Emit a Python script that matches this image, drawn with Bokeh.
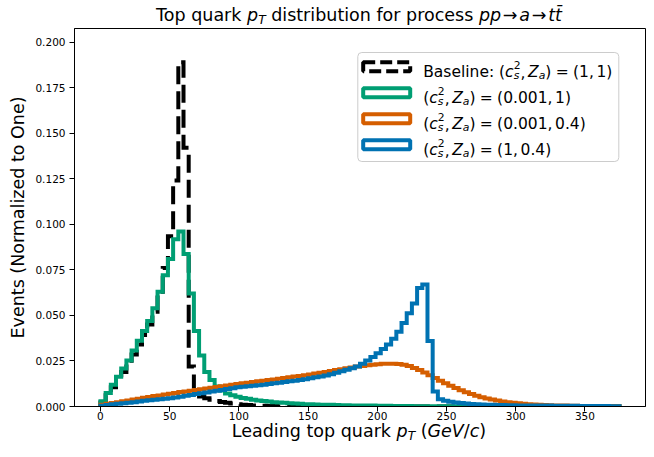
import numpy as np
from bokeh.plotting import figure
from bokeh.layouts import column
from bokeh.models import Label, BoxAnnotation, FixedTicker, NumeralTickFormatter, Range1d, Div
from bokeh.embed import file_html
from bokeh.resources import INLINE

# ---------------- data ----------------
bin_edges = np.linspace(0.0, 375.0, 101)

baseline_1_1 = [
    0.0022, 0.0062, 0.0105, 0.0148, 0.0190, 0.0235, 0.0285, 0.0340, 0.0392, 0.0450,
    0.0520, 0.0610, 0.0760, 0.0935, 0.1240, 0.1890, 0.1420, 0.0220, 0.0075, 0.0055,
    0.0045, 0.0037, 0.0030, 0.0025, 0.0020, 0.0016, 0.0013, 0.0010, 0.0008, 0.0006,
    0.0005, 0.0004, 0.0003, 0.0003, 0.0002, 0.0002, 0.0001, 0.0001, 0.0, 0.0,
    0.0, 0.0, 0.0, 0.0, 0.0, 0.0, 0.0, 0.0, 0.0, 0.0,
    0.0, 0.0, 0.0, 0.0, 0.0, 0.0, 0.0, 0.0, 0.0, 0.0,
    0.0, 0.0, 0.0, 0.0, 0.0, 0.0, 0.0, 0.0, 0.0, 0.0,
    0.0, 0.0, 0.0, 0.0, 0.0, 0.0, 0.0, 0.0, 0.0, 0.0,
    0.0, 0.0, 0.0, 0.0, 0.0, 0.0, 0.0, 0.0, 0.0, 0.0,
    0.0, 0.0, 0.0, 0.0, 0.0, 0.0, 0.0, 0.0, 0.0, 0.0,
]

cs0001_za1 = [
    0.0029, 0.0074, 0.0119, 0.0163, 0.0209, 0.0253, 0.0307, 0.0361, 0.0415, 0.0469,
    0.0540, 0.0630, 0.0720, 0.0810, 0.0918, 0.0960, 0.0837, 0.0620, 0.0415, 0.0280,
    0.0190, 0.0146, 0.0110, 0.0088, 0.0072, 0.0062, 0.0054, 0.0047, 0.0042, 0.0037,
    0.0033, 0.0030, 0.0027, 0.0024, 0.0022, 0.0020, 0.0018, 0.0016, 0.0015, 0.0013,
    0.0012, 0.0011, 0.0010, 0.0009, 0.0009, 0.0008, 0.0007, 0.0007, 0.0006, 0.0006,
    0.0005, 0.0005, 0.0005, 0.0004, 0.0004, 0.0004, 0.0003, 0.0003, 0.0003, 0.0003,
    0.0002, 0.0002, 0.0002, 0.0002, 0.0002, 0.0002, 0.0002, 0.0002, 0.0002, 0.0002,
    0.0002, 0.0002, 0.0002, 0.0002, 0.0002, 0.0002, 0.0002, 0.0002, 0.0002, 0.0002,
    0.0001, 0.0001, 0.0001, 0.0001, 0.0001, 0.0001, 0.0001, 0.0001, 0.0001, 0.0001,
    0.0001, 0.0001, 0.0001, 0.0001, 0.0001, 0.0001, 0.0001, 0.0001, 0.0001, 0.0001,
]

cs0001_za04 = [
    0.0010, 0.0015, 0.0019, 0.0024, 0.0029, 0.0033, 0.0038, 0.0043, 0.0048, 0.0052,
    0.0057, 0.0061, 0.0066, 0.0070, 0.0074, 0.0079, 0.0083, 0.0087, 0.0091, 0.0095,
    0.0099, 0.0103, 0.0107, 0.0111, 0.0115, 0.0119, 0.0123, 0.0127, 0.0131, 0.0134,
    0.0138, 0.0141, 0.0145, 0.0148, 0.0152, 0.0156, 0.0160, 0.0164, 0.0168, 0.0172,
    0.0176, 0.0181, 0.0185, 0.0190, 0.0195, 0.0200, 0.0205, 0.0210, 0.0214, 0.0219,
    0.0223, 0.0226, 0.0229, 0.0232, 0.0234, 0.0235, 0.0235, 0.0233, 0.0229, 0.0222,
    0.0212, 0.0200, 0.0186, 0.0171, 0.0156, 0.0141, 0.0127, 0.0114, 0.0101, 0.0089,
    0.0078, 0.0068, 0.0059, 0.0051, 0.0044, 0.0038, 0.0033, 0.0028, 0.0024, 0.0021,
    0.0018, 0.0015, 0.0013, 0.0011, 0.0010, 0.0008, 0.0007, 0.0006, 0.0005, 0.0005,
    0.0004, 0.0004, 0.0003, 0.0003, 0.0003, 0.0002, 0.0002, 0.0002, 0.0002, 0.0002,
]

cs1_za04 = [
    0.0004, 0.0008, 0.0012, 0.0015, 0.0018, 0.0021, 0.0024, 0.0028, 0.0031, 0.0034,
    0.0037, 0.0040, 0.0042, 0.0045, 0.0050, 0.0054, 0.0059, 0.0063, 0.0068, 0.0073,
    0.0077, 0.0082, 0.0087, 0.0091, 0.0096, 0.0100, 0.0105, 0.0108, 0.0111, 0.0114,
    0.0117, 0.0120, 0.0123, 0.0127, 0.0130, 0.0134, 0.0138, 0.0142, 0.0146, 0.0150,
    0.0155, 0.0160, 0.0165, 0.0170, 0.0177, 0.0185, 0.0193, 0.0202, 0.0210, 0.0220,
    0.0235, 0.0252, 0.0272, 0.0292, 0.0315, 0.0340, 0.0372, 0.0410, 0.0458, 0.0512,
    0.0565, 0.0650, 0.0670, 0.0360, 0.0082, 0.0040, 0.0032, 0.0026, 0.0022, 0.0019,
    0.0016, 0.0014, 0.0012, 0.0011, 0.0010, 0.0009, 0.0008, 0.0008, 0.0007, 0.0007,
    0.0006, 0.0006, 0.0006, 0.0005, 0.0005, 0.0005, 0.0005, 0.0004, 0.0004, 0.0004,
    0.0004, 0.0004, 0.0003, 0.0003, 0.0003, 0.0003, 0.0003, 0.0003, 0.0002, 0.0002,
]

x_ticks = [0, 50, 100, 150, 200, 250, 300, 350]
y_ticks = [0.0, 0.025, 0.05, 0.075, 0.1, 0.125, 0.15, 0.175, 0.2]

series_colors = ["black", "#009E73", "#D55E00", "#0072B2"]

# ---------------- layout (page pixels) ----------------
CW = 646
TITLE_H = 27
FIG_TOP_BORDER = 1
FRAME_H = 378
FIG_BOTTOM_BORDER = 18
FIG_H = FIG_TOP_BORDER + FRAME_H + FIG_BOTTOM_BORDER
XLAB_H = 441 - TITLE_H - FIG_H
FL, FR = 74, 645
XS, XE = -18.75, 393.75
YS, YE = 0.0, 0.2075

p = figure(width=CW, height=FIG_H, output_backend="svg", toolbar_location=None,
           x_range=Range1d(XS, XE), y_range=Range1d(YS, YE),
           min_border_left=FL, min_border_right=CW - FR,
           min_border_top=FIG_TOP_BORDER, min_border_bottom=FIG_BOTTOM_BORDER)
p.background_fill_color = "white"
p.border_fill_color = "white"
p.outline_line_color = "black"
p.outline_line_width = 1
p.xgrid.visible = False
p.ygrid.visible = False

for ax in (p.xaxis, p.yaxis):
    ax.axis_line_color = "black"
    ax.major_tick_line_color = "black"
    ax.major_tick_out = 5
    ax.major_tick_in = 0
    ax.minor_tick_line_color = None
    ax.major_label_text_font = "DejaVu Sans"
    ax.major_label_text_font_size = "10.5px"
    ax.major_label_text_color = "black"
p.xaxis.ticker = FixedTicker(ticks=x_ticks)
p.yaxis.ticker = FixedTicker(ticks=y_ticks)
p.yaxis.formatter = NumeralTickFormatter(format="0.000")
p.xaxis.major_label_standoff = 0
p.yaxis.major_label_standoff = 4
p.yaxis.axis_label = "Events (Normalized to One)"
p.yaxis.axis_label_text_font = "DejaVu Sans"
p.yaxis.axis_label_text_font_size = "17.5px"
p.yaxis.axis_label_text_font_style = "normal"
p.yaxis.axis_label_text_color = "black"
p.yaxis.axis_label_standoff = 4


def outline(vals):
    xs = np.repeat(bin_edges, 2)
    ys = np.concatenate([[0.0], np.repeat(np.asarray(vals), 2), [0.0]])
    return xs, ys


for vals, col, dash in [(baseline_1_1, series_colors[0], "18 7"),
                        (cs0001_za1, series_colors[1], "solid"),
                        (cs0001_za04, series_colors[2], "solid"),
                        (cs1_za04, series_colors[3], "solid")]:
    xs, ys = outline(vals)
    p.line(xs, ys, line_color=col, line_width=4, line_join="miter", line_dash=dash)


# ---------------- legend (rich text inside the frame) ----------------
FRAME_TOP_PAGE = TITLE_H + FIG_TOP_BORDER        # page y of frame top


def px2x(px):          # page x -> data x
    return XS + (px - FL) / (FR - FL) * (XE - XS)


def px2y(py):          # page y -> data y
    return YE - (py - FRAME_TOP_PAGE) / FRAME_H * (YE - YS)


EM = {' ': .318, '(': .390, ')': .390, ',': .318, '.': .318, '/': .337, ':': .337,
      '=': .838, '0': .636, '1': .636, '2': .636, '4': .636,
      'B': .686, 'Z': .685, 'a': .613, 'c': .550, 'e': .615, 'i': .278, 'l': .278,
      'n': .634, 's': .521}


def text_width(s, size):
    return sum(EM.get(c, 0.6) for c in s) * size


def rich(parts, x, y, size):
    cur = 0.0
    for pt in parts:
        if "g" in pt:
            cur += pt["g"] * size
            continue
        fs = size * pt.get("s", 1.0)
        dy = pt.get("dy", 0.0) * size
        p.add_layout(Label(x=px2x(x + cur), y=px2y(y - dy), text=pt["t"],
                           text_font="DejaVu Sans", text_font_size=f"{fs:.1f}px",
                           text_font_style="italic" if pt.get("i", False) else "normal",
                           text_baseline="alphabetic", text_align="left",
                           text_color="black"))
        if pt.get("adv", True):
            cur += text_width(pt["t"], fs)


LEG_TOP, LEG_BOTTOM = 52.0, 161.0
p.add_layout(BoxAnnotation(left=px2x(357.3), right=px2x(618.3),
                           top=px2y(LEG_TOP), bottom=px2y(LEG_BOTTOM),
                           fill_color="white", fill_alpha=0.8, line_color="#cccccc",
                           line_alpha=1.0, line_width=1, border_radius=4))

legend_values = [("Baseline: ", "1", "1"), ("", "0.001", "1"), ("", "0.001", "0.4"), ("", "1", "0.4")]
row_centers = [66.2, 92.2, 118.2, 144.2]
for k, ((prefix, v1, v2), col, cy) in enumerate(zip(legend_values, series_colors, row_centers)):
    p.add_layout(BoxAnnotation(left=px2x(362.7), right=px2x(409.7), top=px2y(cy - 4.5),
                               bottom=px2y(cy + 4.5), fill_color=None, fill_alpha=0.0,
                               line_color=col, line_alpha=1.0, line_width=4,
                               line_dash="12 5" if k == 0 else "solid"))
    parts = []
    if prefix:
        parts.append(dict(t=prefix))
    parts += [dict(t="("), dict(t="c", i=True),
              dict(t="s", i=True, s=0.7, dy=-0.22, adv=False),
              dict(t="2", s=0.7, dy=0.42), dict(t=","), dict(g=0.167),
              dict(t="Z", i=True), dict(t="a", i=True, s=0.7, dy=-0.22), dict(t=")"),
              dict(g=0.278), dict(t="="), dict(g=0.278),
              dict(t="(" + v1 + ","), dict(g=0.167), dict(t=v2 + ")")]
    rich(parts, 422.7, cy + 5, 15.5)

# ---------------- title and x label as HTML text ----------------
SUB = '<span style="font-size:70%;position:relative;top:0.25em;font-style:italic">T</span>'
title_html = ('<span style="position:relative;left:36px">Top quark <i>p</i>' + SUB +
              ' distribution for process '
              '<i>pp</i>&#8202;&#8594;&#8202;<i>a</i>&#8202;&#8594;&#8202;<i>tt&#772;</i></span>')
xlab_html = ('<span style="position:relative;left:36px">Leading top quark <i>p</i>' + SUB +
             ' (<i>GeV</i>/<i>c</i>)</span>')

title_div = Div(text=title_html, width=CW, height=TITLE_H, margin=0,
                styles={"font-family": "DejaVu Sans", "font-size": "17.5px",
                        "line-height": "31px", "text-align": "center",
                        "color": "black", "white-space": "nowrap", "overflow": "visible"})
xlab_div = Div(text=xlab_html, width=CW, height=XLAB_H, margin=0,
               styles={"font-family": "DejaVu Sans", "font-size": "17.5px",
                       "line-height": "14px", "text-align": "center",
                       "color": "black", "white-space": "nowrap", "overflow": "visible"})

layout = column(title_div, p, xlab_div, spacing=0)
open("out.html", "w").write(file_html(layout, INLINE))
